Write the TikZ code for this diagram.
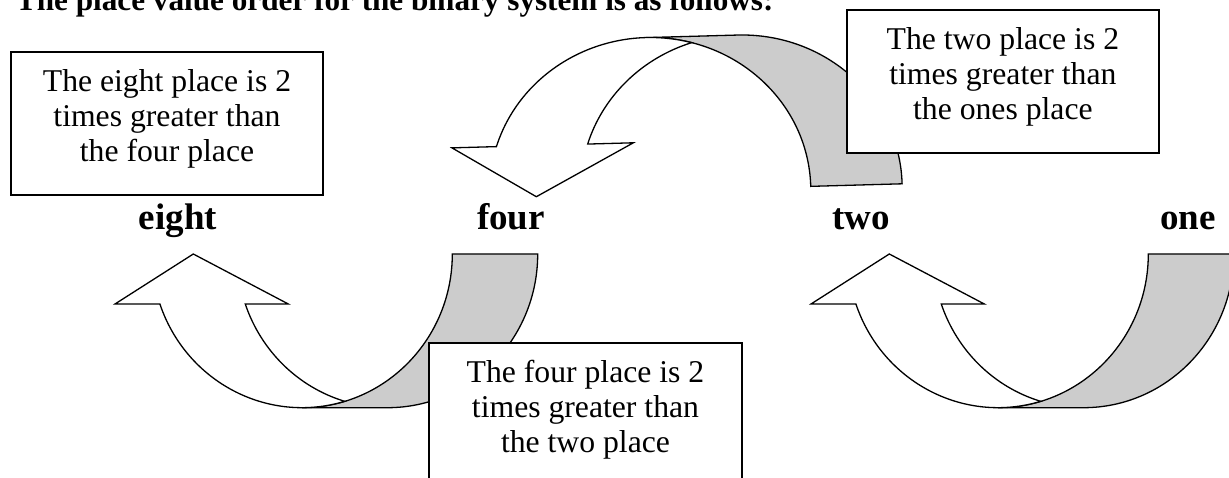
\documentclass[tikz,border=0pt]{standalone}
\usepackage{fontspec}
\setmainfont{Liberation Serif}
\definecolor{backgray}{HTML}{CCCCCC}
\newcommand{\boxtext}[1]{\parbox[c][143pt][t]{312.5pt}{\centering\rule{0pt}{40pt}#1}}
\tikzset{
  arrowline/.style={draw=black, line width=1.3pt, line join=miter},
  infobox/.style={draw=black, line width=1.8pt, fill=white, inner sep=0pt,
    font=\fontsize{31.7}{35}\selectfont},
  placelabel/.style={anchor=base, inner sep=0pt, font=\fontsize{37}{40}\selectfont\bfseries},
  cuparrow/.pic={
    \path[arrowline, fill=backgray] (302,407.7)
      arc[start angle=90, end angle=0, x radius=150.3, y radius=153.7]
      -- (537.7,254)
      arc[start angle=0, end angle=90, x radius=150.3, y radius=153.7]
      -- cycle;
    \path[arrowline, fill=white] (159.9,304)
      arc[start angle=161, end angle=73.5, x radius=150.3, y radius=153.7]
      arc[start angle=106.5, end angle=161, x radius=150.3, y radius=153.7]
      -- (288.3,304) -- (193.3,254) -- (115,304) -- cycle;
  }
}
\begin{document}
\begin{tikzpicture}[x=1pt, y=-1pt]
\useasboundingbox (0,0) rectangle (1229,478);

% title (clipped at top as in the reference)
\node[anchor=base west, inner sep=0pt, font=\fontsize{31.2}{35}\selectfont\bfseries] (title) at (15.8,11)
  {The place value order for the binary system is as follows:};

% bottom curved arrows
\pic at (0,0) {cuparrow};
\pic at (696,0) {cuparrow};

% top curved arrow (two -> four)
\begin{scope}[rotate around={1.6:(680,165)}]
  \path[arrowline, fill=backgray] (649.4,36.7)
    arc[start angle=270, end angle=360, x radius=160.7, y radius=153.3]
    -- (901.5,190)
    arc[start angle=0, end angle=-90, x radius=160.7, y radius=153.3]
    -- cycle;
  \path[arrowline, fill=white] (497,141.5)
    arc[start angle=198.44, end angle=286.5, x radius=160.7, y radius=153.3]
    arc[start angle=253.5, end angle=198.44, x radius=160.7, y radius=153.3]
    -- (634,141.5) -- (535.5,192.7) -- (452.5,141.5) -- cycle;
\end{scope}

% place labels
\node[placelabel] (eight) at (178,230) {eight};
\node[placelabel] (four) at (511,230) {four};
\node[placelabel] (two) at (861.3,230) {two};
\node[placelabel] (one) at (1188,230) {one};

% explanation boxes
\node[infobox] (box1) at (167,123.5) {\boxtext{The eight place is 2\\ times greater than\\ the four place}};
\node[infobox] (box2) at (1002.9,81.5) {\boxtext{The two place is 2\\ times greater than\\ the ones place}};
\node[infobox] (box3) at (585.5,414.2) {\boxtext{The four place is 2\\ times greater than\\ the two place}};
\end{tikzpicture}
\end{document}
